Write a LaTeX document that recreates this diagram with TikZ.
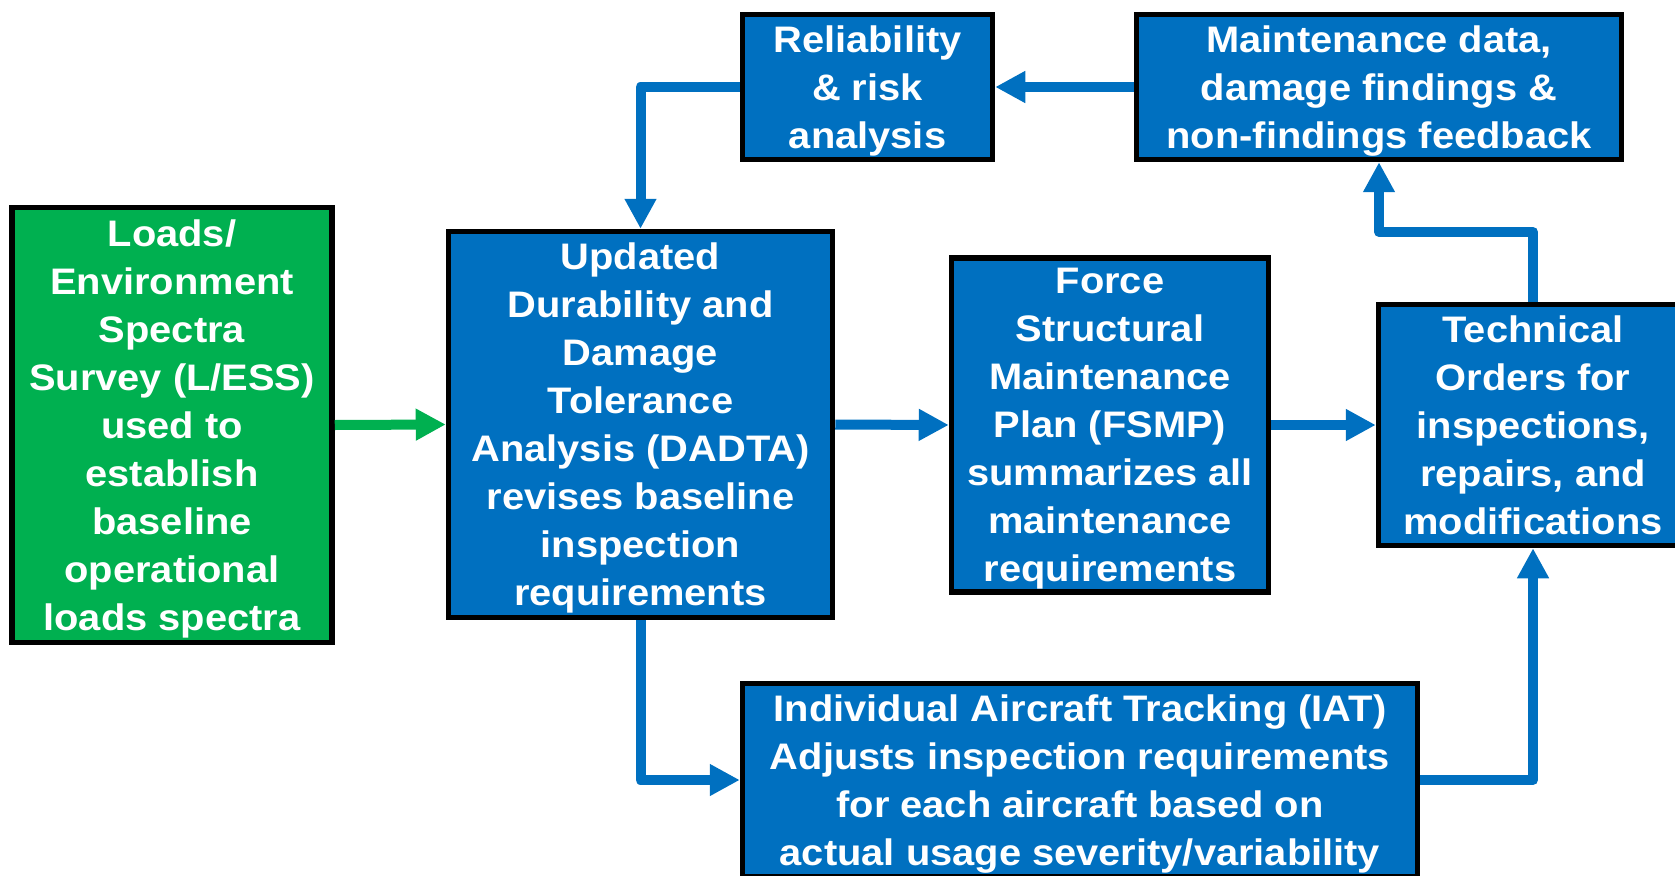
\documentclass[tikz,border=0pt]{standalone}
\usepackage{fontspec}
\setmainfont{Liberation Sans}[FakeStretch=1.08]
\usetikzlibrary{arrows.meta,calc}

\definecolor{tblue}{RGB}{0,112,192}
\definecolor{tgreen}{RGB}{0,176,80}

\begin{document}
\begin{tikzpicture}[
		font=\fontsize{10.5}{13.66}\selectfont\bfseries,
		box/.style={draw=black, line width=0.055cm, fill=tblue, text=white,
			align=center, inner sep=0pt, text depth=0pt},
		flow/.style={draw=tblue, line width=0.1cm, line join=round,
			-{Triangle[width=3mm,length=3mm]}},
		greenflow/.style={flow, draw=tgreen}
	]
		
		% page frame, the right and bottom boxes run off it
		\useasboundingbox (0,0) rectangle (16.75,-8.75);
		\clip (0,0) rectangle (16.75,-8.75);
		
		% 1. Loads survey (Left - Green)
		\node[box, fill=tgreen, minimum width=3.2cm, minimum height=4.35cm] (less) at (1.72,-4.25)
			{Loads/\\Environment\\Spectra\\Survey (L/ESS)\\used to\\establish\\baseline\\operational\\loads spectra};
		
		% 2. Middle row
		\node[box, minimum width=3.84cm, minimum height=3.86cm] (dadta) at (6.405,-4.245)
			{Updated\\Durability and\\Damage\\Tolerance\\Analysis (DADTA)\\revises baseline\\inspection\\requirements};
		\node[box, minimum width=3.17cm, minimum height=3.34cm] (fsmp) at (11.10,-4.25)
			{Force\\Structural\\Maintenance\\Plan (FSMP)\\summarizes all\\maintenance\\requirements};
		\node[box, minimum width=3.09cm, minimum height=2.41cm] (techorders) at (15.33,-4.25)
			{Technical\\Orders for\\inspections,\\repairs, and\\modifications};
		
		% 3. Feedback row (Top)
		\node[box, minimum width=2.5cm, minimum height=1.45cm] (risk) at (8.675,-0.87)
			{Reliability\\\& risk\\analysis};
		\node[box, minimum width=4.85cm, minimum height=1.45cm] (mxdata) at (13.79,-0.87)
			{Maintenance data,\\damage findings \&\\non-findings feedback};
		
		% 4. Tracking (Bottom)
		\node[box, minimum width=6.75cm, minimum height=1.93cm] (iat) at (10.80,-7.80)
			{Individual Aircraft Tracking (IAT)\\Adjusts inspection requirements\\for each aircraft based on\\actual usage severity/variability};
		
		% --- Connectors ---
		\draw[greenflow] (less.east) -- (dadta.west);
		\draw[flow] (dadta.east) -- (fsmp.west);
		\draw[flow] (fsmp.east) -- (techorders.west);
		\draw[flow] (dadta.south) |- (iat.west);
		\draw[flow] (iat.east) -| (techorders.south);
		\draw[flow] (techorders.north) |- ($(techorders.north)!0.5!(mxdata.south)$) -| (mxdata.south);
		\draw[flow] (mxdata.west) -- (risk.east);
		\draw[flow] (risk.west) -| (dadta.north);
		
	\end{tikzpicture}
\end{document}
